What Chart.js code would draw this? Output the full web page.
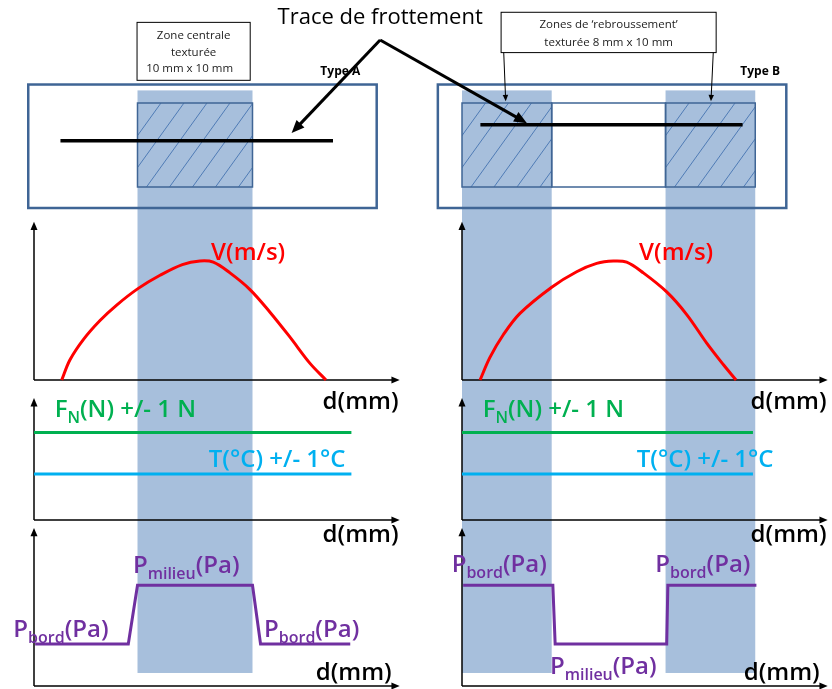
<!DOCTYPE html>
<html>
<head>
<meta charset="utf-8">
<script src="https://cdn.jsdelivr.net/npm/chart.js@4.4.0/dist/chart.umd.min.js"></script>
<style>
  html, body { margin: 0; padding: 0; background: #fff; }
  canvas { display: block; }
</style>
</head>
<body>
<canvas id="chart" width="832" height="689"></canvas>
<script>
// d = position along the friction track (mm), y values in arbitrary units
const vA_d = [2.41, 3.13, 4.29, 5.74, 7.19, 9.07, 10.96, 12.9, 14.43, 15.59, 17.04, 18.78, 20.52, 22.26, 24.0, 25.39];
const vA = [0, 0.17, 0.34, 0.50, 0.63, 0.77, 0.88, 0.97, 1.00, 0.99, 0.90, 0.76, 0.57, 0.36, 0.14, 0];
const vB_d = [1.57, 2.43, 3.59, 5.04, 7.8, 9.97, 11.71, 13.16, 14.32, 15.77, 17.8, 19.54, 21.28, 22.72, 23.83];
const vB = [0, 0.19, 0.38, 0.56, 0.78, 0.91, 0.98, 1.00, 0.99, 0.90, 0.74, 0.55, 0.31, 0.13, 0];

const ftA_d = [0, 27.6];
const ftB_d = [0, 25.3];
const fN = [1.9, 1.9];
const temp = [1.0, 1.0];

const pA_d = [0.1, 8.2, 9.0, 19.0, 19.7, 27.5];
const pA = [1, 1, 2.4, 2.4, 1, 1];
const pB_d = [0.1, 7.9, 8.1, 17.8, 17.9, 25.6];
const pB = [2.4, 2.4, 1, 1, 2.4, 2.4];

// textured zones (mm) and specimen / track extents
const zonesA = [[9, 19]];
const zonesB = [[0, 7.8], [17.7, 25.5]];
const specimenA = [-0.5, 29.8];
const specimenB = [-2.1, 28.2];
const traceA = [2.3, 26];
const traceB = [1.6, 24.4];

const RED = '#ff0000', GREEN = '#00b050', CYAN = '#00b0f0', PURPLE = '#7030a0';
const BAND = '#a7bfdc', EDGE = '#3f6595', HATCH = '#4f7bb5';
const FONT = '"Open Sans", "DejaVu Sans", sans-serif';

// where each value scale sits on the page: pixel of the zero value and pixels per unit
const W = 832, H = 689;
const geo = {
  xA: { origin: 34, ppu: 11.5, axis: 'x' },
  xB: { origin: 462, ppu: 11.5, axis: 'x' },
  ySk: { origin: 145, ppu: 8.4, axis: 'y' },
  yV: { origin: 380, ppu: 119, axis: 'y' },
  yFT: { origin: 520, ppu: 46, axis: 'y' },
  yP: { origin: 686, ppu: 42, axis: 'y' }
};

const scales = {};
for (const id in geo) {
  const g = geo[id];
  if (g.axis === 'x') {
    scales[id] = { type: 'linear', display: false, min: -g.origin / g.ppu, max: (W - g.origin) / g.ppu };
  } else {
    scales[id] = { type: 'linear', display: false, min: (g.origin - H) / g.ppu, max: g.origin / g.ppu };
  }
}

const pts = (xs, ys) => xs.map((x, i) => ({ x, y: ys[i] }));

const line = (data, color, xAxisID, yAxisID, extra) => Object.assign({
  data, xAxisID, yAxisID,
  borderColor: color,
  borderWidth: 3,
  pointRadius: 0,
  fill: false,
  tension: 0
}, extra || {});

const datasets = [
  line(pts(vA_d, vA), RED, 'xA', 'yV', { tension: 0.35 }),
  line(pts(vB_d, vB), RED, 'xB', 'yV', { tension: 0.35 }),
  line(pts(ftA_d, fN), GREEN, 'xA', 'yFT'),
  line(pts(ftB_d, fN), GREEN, 'xB', 'yFT'),
  line(pts(ftA_d, temp), CYAN, 'xA', 'yFT'),
  line(pts(ftB_d, temp), CYAN, 'xB', 'yFT'),
  line(pts(pA_d, pA), PURPLE, 'xA', 'yP', { borderJoinStyle: 'miter' }),
  line(pts(pB_d, pB), PURPLE, 'xB', 'yP', { borderJoinStyle: 'miter' })
];

function arrow(ctx, x1, y1, x2, y2, width, head) {
  const a = Math.atan2(y2 - y1, x2 - x1);
  ctx.lineWidth = width;
  ctx.beginPath();
  ctx.moveTo(x1, y1);
  ctx.lineTo(x2 - Math.cos(a) * head * 0.8, y2 - Math.sin(a) * head * 0.8);
  ctx.stroke();
  ctx.beginPath();
  ctx.moveTo(x2, y2);
  ctx.lineTo(x2 - head * Math.cos(a - 0.4), y2 - head * Math.sin(a - 0.4));
  ctx.lineTo(x2 - head * Math.cos(a + 0.4), y2 - head * Math.sin(a + 0.4));
  ctx.closePath();
  ctx.fill();
}

// text with optional subscript parts, left aligned, vertically centred on y
function rich(ctx, parts, x, y, color, size) {
  ctx.fillStyle = color;
  ctx.textBaseline = 'middle';
  ctx.textAlign = 'left';
  let cx = x;
  for (const p of parts) {
    const sub = typeof p !== 'string';
    const t = sub ? p.sub : p;
    ctx.font = '600 ' + (sub ? Math.round(size * 0.66) : size) + 'px ' + FONT;
    ctx.fillText(t, cx, sub ? y + size * 0.34 : y);
    cx += ctx.measureText(t).width;
  }
}

const sketch = {
  id: 'sketch',
  beforeDatasetsDraw(chart) {
    const ctx = chart.ctx, s = chart.scales;
    const px = (id, v) => s[id].getPixelForValue(v);
    ctx.save();

    // shaded textured zones running down every panel
    ctx.fillStyle = BAND;
    const bandTop = px('ySk', 6.5), bandBot = px('yP', 0.31);
    for (const [col, zones] of [['xA', zonesA], ['xB', zonesB]]) {
      for (const [a, b] of zones) {
        ctx.fillRect(px(col, a), bandTop, px(col, b) - px(col, a), bandBot - bandTop);
      }
    }

    // specimens seen from above
    const specs = [['xA', specimenA, zonesA, traceA, 0.5], ['xB', specimenB, zonesB, traceB, 2.4]];
    for (const [col, sp, zones, tr, ty] of specs) {
      ctx.strokeStyle = EDGE;
      ctx.lineWidth = 2.5;
      ctx.strokeRect(px(col, sp[0]), px('ySk', 7.2), px(col, sp[1]) - px(col, sp[0]), px('ySk', -7.5) - px('ySk', 7.2));

      const zt = px('ySk', 5), zb = px('ySk', -5);
      for (const [a, b] of zones) {
        const l = px(col, a), r = px(col, b);
        ctx.save();
        ctx.beginPath();
        ctx.rect(l, zt, r - l, zb - zt);
        ctx.clip();
        ctx.strokeStyle = HATCH;
        ctx.lineWidth = 1;
        for (let x0 = l - 60; x0 < r + 10; x0 += 23) {
          ctx.beginPath();
          ctx.moveTo(x0, zb);
          ctx.lineTo(x0 + 0.72 * (zb - zt), zt);
          ctx.stroke();
        }
        ctx.restore();
        ctx.strokeStyle = EDGE;
        ctx.lineWidth = 1.5;
        ctx.strokeRect(l, zt, r - l, zb - zt);
      }
      if (col === 'xB') {
        ctx.strokeStyle = EDGE;
        ctx.lineWidth = 1.5;
        ctx.strokeRect(px(col, zones[0][1]), zt, px(col, zones[1][0]) - px(col, zones[0][1]), zb - zt);
      }

      ctx.strokeStyle = '#000';
      ctx.lineWidth = 3.5;
      ctx.beginPath();
      ctx.moveTo(px(col, tr[0]), px('ySk', ty));
      ctx.lineTo(px(col, tr[1]), px('ySk', ty));
      ctx.stroke();
    }

    // axes with arrow heads
    ctx.strokeStyle = '#000';
    ctx.fillStyle = '#000';
    const axes = [['yV', 1.33], ['yFT', 2.65], ['yP', 3.76]];
    for (const col of ['xA', 'xB']) {
      for (const [row, top] of axes) {
        const x0 = px(col, 0), y0 = px(row, 0);
        arrow(ctx, x0, y0, x0, px(row, top), 1.5, 9);
        arrow(ctx, x0, y0, px(col, 31.8), y0, 1.5, 9);
      }
    }
    ctx.restore();
  },

  afterDatasetsDraw(chart) {
    const ctx = chart.ctx, s = chart.scales;
    const px = (id, v) => s[id].getPixelForValue(v);
    ctx.save();

    // axis titles
    ctx.fillStyle = '#000';
    ctx.font = '600 24px ' + FONT;
    ctx.textAlign = 'right';
    ctx.textBaseline = 'middle';
    for (const col of ['xA', 'xB']) {
      ctx.fillText('d(mm)', px(col, 31.7), px('yV', -0.19));
      ctx.fillText('d(mm)', px(col, 31.7), px('yFT', -0.33));
      ctx.fillText('d(mm)', px(col, 31.1), px('yP', 0.31));
    }

    // curve labels
    for (const col of ['xA', 'xB']) {
      rich(ctx, ['V(m/s)'], px(col, 15.4), px('yV', 1.07), RED, 24);
      rich(ctx, ['F', { sub: 'N' }, '(N) +/- 1 N'], px(col, 1.8), px('yFT', 2.39), GREEN, 24);
      rich(ctx, ['T(°C) +/- 1°C'], px(col, 15.2), px('yFT', 1.3), CYAN, 24);
    }
    const bord = ['P', { sub: 'bord' }, '(Pa)'];
    const milieu = ['P', { sub: 'milieu' }, '(Pa)'];
    rich(ctx, bord, px('xA', -1.8), px('yP', 1.33), PURPLE, 24);
    rich(ctx, milieu, px('xA', 8.6), px('yP', 2.86), PURPLE, 24);
    rich(ctx, bord, px('xA', 20.0), px('yP', 1.33), PURPLE, 24);
    rich(ctx, bord, px('xB', -0.9), px('yP', 2.88), PURPLE, 24);
    rich(ctx, bord, px('xB', 16.8), px('yP', 2.88), PURPLE, 24);
    rich(ctx, milieu, px('xB', 7.65), px('yP', 0.45), PURPLE, 24);

    // note boxes above the specimens
    ctx.strokeStyle = '#000';
    ctx.lineWidth = 1;
    ctx.fillStyle = '#000';
    const bA = [px('xA', 8.96), px('ySk', 14.6), px('xA', 18.8), px('ySk', 7.7)];
    ctx.strokeRect(bA[0], bA[1], bA[2] - bA[0], bA[3] - bA[1]);
    const bB = [px('xB', 3.4), px('ySk', 15.8), px('xB', 22.1), px('ySk', 11.0)];
    arrow(ctx, bB[0] + 1, bB[1], px('xB', 3.8), px('ySk', 5.2), 1, 7);
    arrow(ctx, bB[2] - 1, bB[1], px('xB', 21.65), px('ySk', 5.2), 1, 7);
    ctx.fillStyle = '#fff';
    ctx.fillRect(bB[0], bB[1], bB[2] - bB[0], bB[3] - bB[1]);
    ctx.strokeRect(bB[0], bB[1], bB[2] - bB[0], bB[3] - bB[1]);

    ctx.fillStyle = '#222';
    ctx.font = '11.5px ' + FONT;
    ctx.textAlign = 'center';
    ctx.textBaseline = 'middle';
    const cA = (bA[0] + bA[2]) / 2;
    ctx.fillText('Zone centrale', cA, bA[1] + 13);
    ctx.fillText('texturée', cA, bA[1] + 30);
    ctx.fillText('10 mm x 10 mm', cA - 4, bA[1] + 46);
    const cB = (bB[0] + bB[2]) / 2;
    ctx.fillText('Zones de \u2018rebroussement\u2019', cB, bB[1] + 12);
    ctx.fillText('texturée 8 mm x 10 mm', cB, bB[1] + 30);

    ctx.fillStyle = '#000';
    ctx.font = 'bold 12px ' + FONT;
    ctx.textAlign = 'left';
    ctx.fillText('Type A', px('xA', 24.9), px('ySk', 8.7));
    ctx.fillText('Type B', px('xB', 24.2), px('ySk', 8.8));

    // friction track callout
    ctx.font = '22px ' + FONT;
    ctx.textAlign = 'center';
    ctx.fillText('Trace de frottement', px('xA', 30.1), px('ySk', 15.1));
    ctx.strokeStyle = '#000';
    const ax = px('xA', 30.1), ay = px('ySk', 12.5);
    arrow(ctx, ax, ay, px('xA', 22.4), px('ySk', 1.43), 3, 14);
    arrow(ctx, ax, ay, px('xB', 5.65), px('ySk', 2.6), 3, 14);

    ctx.restore();
  }
};

new Chart(document.getElementById('chart'), {
  type: 'line',
  data: { datasets },
  options: {
    responsive: false,
    animation: false,
    devicePixelRatio: 1,
    layout: { padding: 0 },
    parsing: false,
    plugins: { legend: { display: false }, tooltip: { enabled: false }, title: { display: false } },
    scales
  },
  plugins: [sketch]
});
</script>
</body>
</html>
